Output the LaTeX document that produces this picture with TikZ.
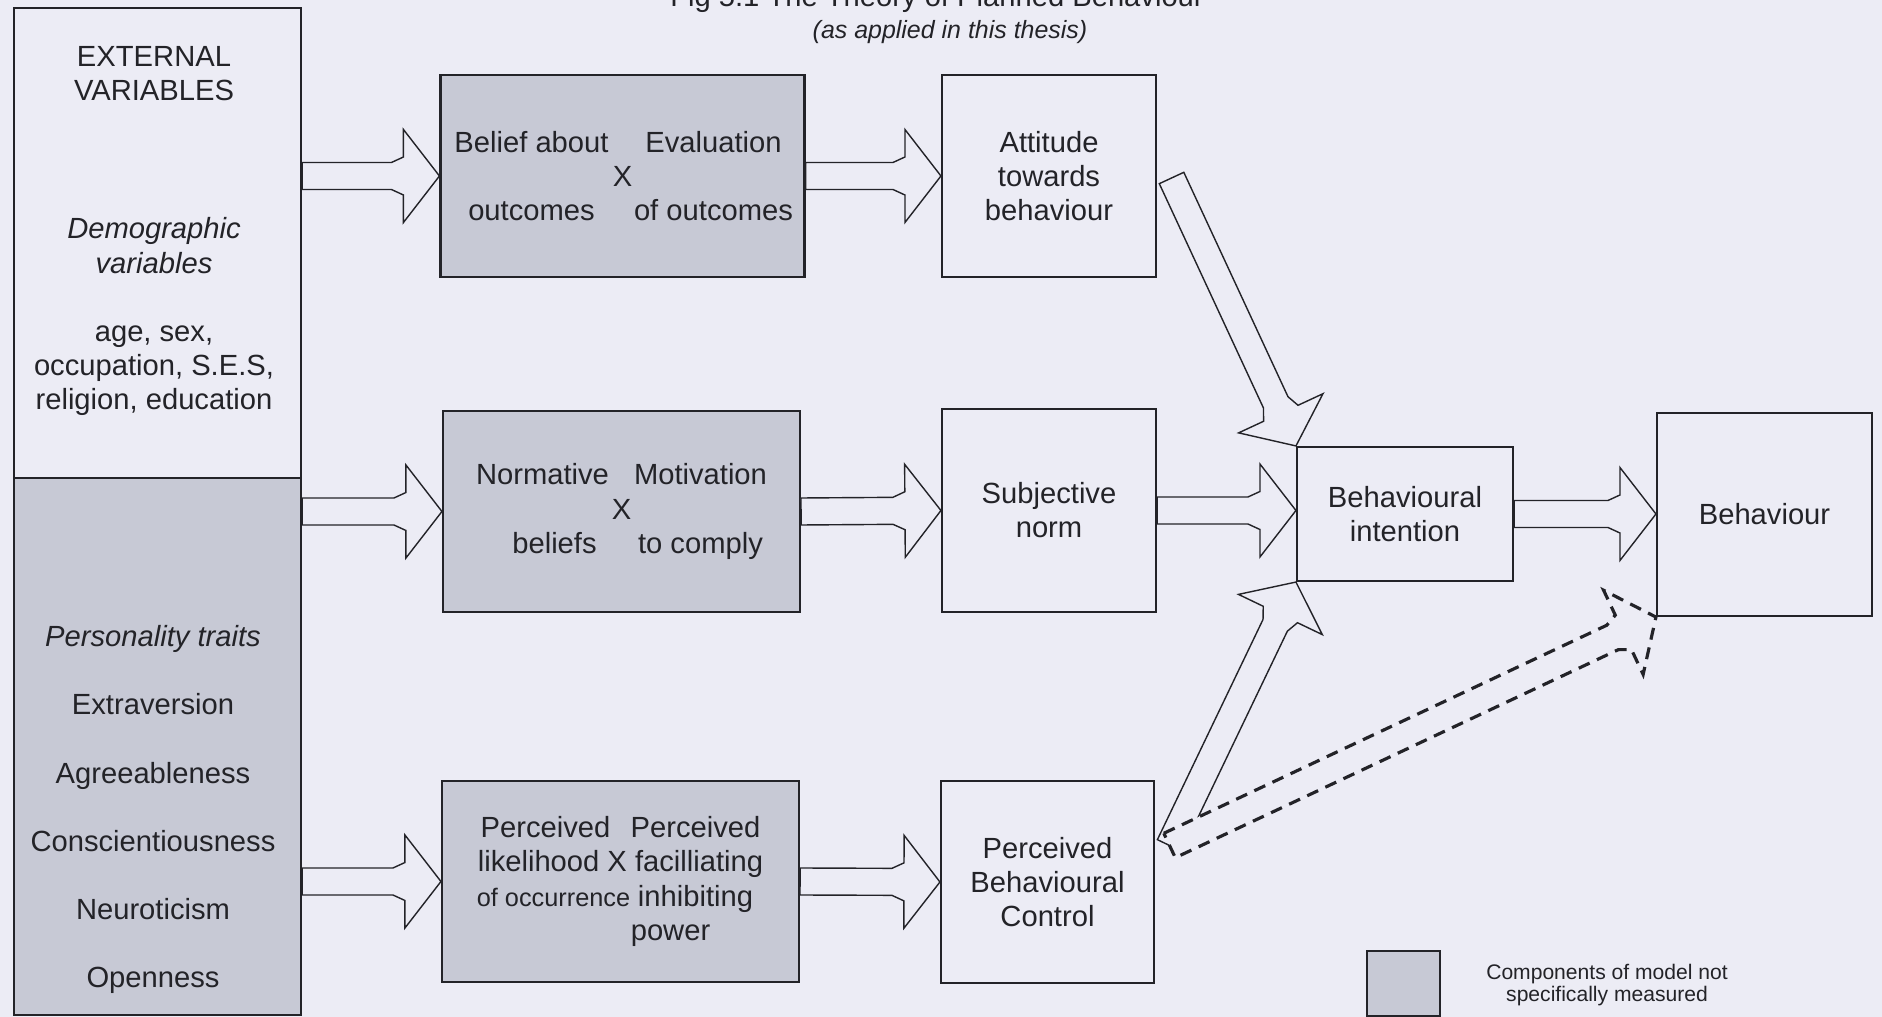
\documentclass[tikz,border=0pt]{standalone}
\usepackage{fontspec}
\setmainfont{Liberation Sans}
\usetikzlibrary{calc}

\definecolor{paper}{RGB}{236,236,245}
\definecolor{unmeasured}{RGB}{199,201,213}
\definecolor{ink}{RGB}{35,35,40}

\newcommand{\twocol}[3]{\makebox[#1]{#2}\makebox[#1]{#3}}
\newcommand{\blockarrow}[3][]{%
  \coordinate (bas) at #2;
  \coordinate (bae) at #3;
  \coordinate (bah) at ($(bae)!0.36cm!(bas)$);
  \coordinate (bak) at ($(bae)!0.48cm!(bas)$);
  \draw[blk,#1] ($(bas)!0.135cm!90:(bae)$) -- ($(bak)!0.135cm!90:(bae)$)
    -- ($(bah)!0.19cm!90:(bae)$) -- ($(bah)!0.465cm!90:(bae)$) -- (bae)
    -- ($(bah)!0.465cm!-90:(bae)$) -- ($(bah)!0.19cm!-90:(bae)$)
    -- ($(bak)!0.135cm!-90:(bae)$) -- ($(bas)!0.135cm!-90:(bae)$) -- cycle;}

\begin{document}
\begin{tikzpicture}[font=\fontsize{8.3}{9.7}\selectfont, text=ink,
  whitebox/.style={draw=ink,line width=0.6pt,fill=paper,align=center,inner sep=0pt},
  greybox/.style={whitebox,fill=unmeasured},
  blk/.style={draw=ink,line width=0.4pt,fill=paper},
  dashblk/.style={line width=0.9pt,dash pattern=on 0.12cm off 0.08cm}]
\useasboundingbox (0,0) rectangle (18.82,-10.17);
\fill[paper] (0,0) rectangle (18.82,-10.17);
\node[anchor=base] (title) at (9.37,-0.07) {Fig 5.1 The Theory of Planned Behaviour};
\node[anchor=base,font=\fontsize{7.1}{8}\selectfont\itshape] (subtitle) at (9.5,-0.385) {(as applied in this thesis)};

\node[whitebox,anchor=north west,minimum width=2.87cm,minimum height=4.70cm] (ext) at (0.13,-0.07) {};
\node[greybox,anchor=north west,minimum width=2.87cm,minimum height=5.37cm] (pers) at (0.13,-4.77) {};
\node[align=center] (extlbl) at (1.54,-2.31) {EXTERNAL\\VARIABLES\\[1.04cm]\textit{Demographic}\\\textit{variables}\\[0.34cm]age, sex,\\occupation, S.E.S,\\religion, education};
\node[align=center] (perslbl) at (1.53,-8.095) {\textit{Personality traits}\\[0.34cm]Extraversion\\[0.34cm]Agreeableness\\[0.34cm]Conscientiousness\\[0.34cm]Neuroticism\\[0.34cm]Openness};

\node[greybox,minimum width=3.57cm,minimum height=2.02cm] (bel) at (6.225,-1.76) {\twocol{1.82cm}{Belief about}{Evaluation}\\X\\\twocol{1.82cm}{outcomes}{of outcomes}};
\node[whitebox,minimum width=2.14cm,minimum height=2.02cm] (att) at (10.49,-1.76) {Attitude\\towards\\behaviour};
\node[greybox,minimum width=3.57cm,minimum height=2.01cm] (norm) at (6.215,-5.115) {\twocol{1.58cm}{Normative}{Motivation}\\X\\\twocol{1.58cm}{\hspace{0.24cm}beliefs}{to comply}};
\node[whitebox,minimum width=2.14cm,minimum height=2.03cm] (sn) at (10.49,-5.105) {Subjective\\norm};
\node[greybox,minimum width=3.57cm,minimum height=2.01cm] (ctrl) at (6.205,-8.815) {\twocol{1.5cm}{Perceived}{Perceived}\\likelihood X facilliating\\\twocol{1.5cm}{\hspace{0.16cm}{\fontsize{7.2}{9.7}\selectfont of occurrence}}{inhibiting}\\\twocol{1.5cm}{}{power\hspace{0.5cm}}};
\node[whitebox,minimum width=2.13cm,minimum height=2.02cm] (pbc) at (10.475,-8.82) {Perceived\\Behavioural\\Control};
\node[whitebox,minimum width=2.16cm,minimum height=1.34cm] (bi) at (14.05,-5.14) {Behavioural\\intention};
\node[whitebox,minimum width=2.15cm,minimum height=2.03cm] (beh) at (17.645,-5.145) {Behaviour};

\blockarrow{(ext.east |- bel.west)}{(bel.west)}
\blockarrow{(bel.east)}{(att.west)}
\blockarrow{(pers.east |- norm.west)}{(norm.west)}
\blockarrow{(norm.east)}{(sn.west)}
\blockarrow{(pers.east |- ctrl.west)}{(ctrl.west)}
\blockarrow{(ctrl.east)}{(pbc.west)}
\blockarrow{(sn.east)}{(bi.west |- sn.east)}
\blockarrow{(bi.east)}{(beh.west |- bi.east)}
\coordinate (attout) at ($(att.east)+(0.145,-0.02)$);
\coordinate (pbcout) at ($(pbc.east)+(0.145,0.365)$);
\blockarrow{(attout)}{(bi.north west)}
\blockarrow{(pbcout)}{(bi.south west)}
\blockarrow[dashblk]{(pbcout)}{(beh.south west)}

\node[greybox,minimum width=0.73cm,minimum height=0.65cm] (legbox) at (14.035,-9.835) {};
\node[align=center,font=\fontsize{6}{6.1}\selectfont] (legtxt) at (16.07,-9.85) {Components of model not\\specifically measured};
\end{tikzpicture}
\end{document}
